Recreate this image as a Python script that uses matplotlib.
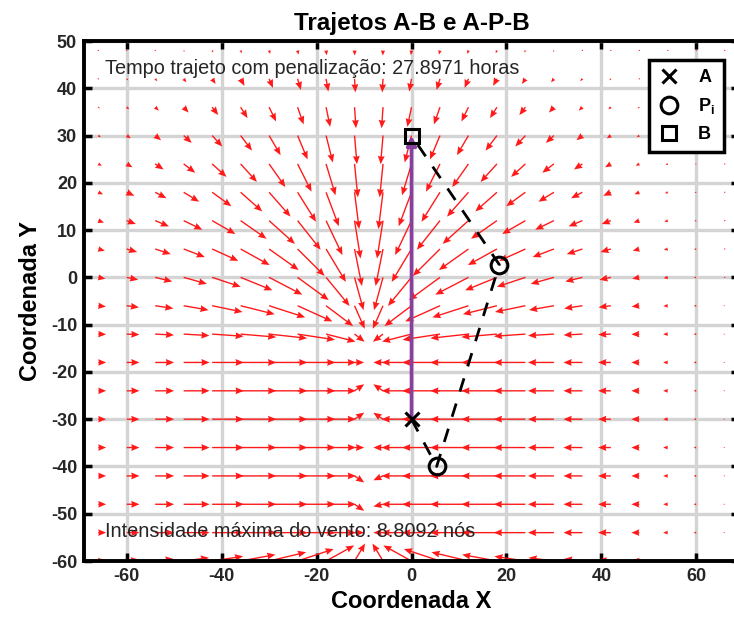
import numpy as np
import matplotlib
matplotlib.use("Agg")
import matplotlib.pyplot as plt
from matplotlib.lines import Line2D

plt.rcParams['font.family'] = ['Liberation Sans', 'DejaVu Sans']
plt.rcParams['axes.unicode_minus'] = False

# ---------------- data ----------------
grid_x = [-66, -60, -54, -48, -42, -36, -30, -24, -18, -12, -6, 0, 6, 12, 18, 24, 30, 36, 42, 48, 54, 60, 66]
grid_y = [48, 42, 36, 30, 24, 18, 12, 6, 0, -6, -12, -18, -24, -30, -36, -42, -48, -54, -60]

# wind components (knots), one list per row of grid_y (top row first), columns follow grid_x
wind_u = [
    [0.10, 0.14, 0.17, 0.21, 0.25, 0.28, 0.27, 0.23, 0.16, 0.06, -0.06, -0.16, -0.23, -0.27, -0.28, -0.25, -0.21, -0.17, -0.14, -0.10, -0.08, -0.05, -0.04],
    [0.23, 0.34, 0.48, 0.63, 0.78, 0.87, 0.88, 0.76, 0.52, 0.19, -0.19, -0.52, -0.76, -0.88, -0.87, -0.78, -0.63, -0.48, -0.34, -0.23, -0.17, -0.11, -0.07],
    [0.38, 0.57, 0.82, 1.12, 1.38, 1.57, 1.59, 1.37, 0.94, 0.33, -0.33, -0.94, -1.37, -1.59, -1.57, -1.38, -1.12, -0.82, -0.57, -0.38, -0.25, -0.17, -0.11],
    [0.60, 0.91, 1.34, 1.82, 2.30, 2.58, 2.61, 2.27, 1.54, 0.55, -0.55, -1.54, -2.27, -2.61, -2.58, -2.30, -1.82, -1.34, -0.91, -0.60, -0.37, -0.24, -0.15],
    [0.82, 1.30, 1.91, 2.63, 3.26, 3.71, 3.70, 3.17, 2.15, 0.76, -0.76, -2.15, -3.17, -3.70, -3.71, -3.26, -2.63, -1.91, -1.30, -0.82, -0.51, -0.30, -0.19],
    [1.09, 1.73, 2.56, 3.51, 4.38, 4.91, 4.87, 4.20, 2.91, 1.05, -1.05, -2.91, -4.20, -4.87, -4.91, -4.38, -3.51, -2.56, -1.73, -1.09, -0.66, -0.39, -0.24],
    [1.32, 2.09, 3.13, 4.25, 5.29, 5.89, 5.87, 5.25, 3.72, 1.37, -1.37, -3.72, -5.25, -5.87, -5.89, -5.29, -4.25, -3.13, -2.09, -1.32, -0.79, -0.45, -0.27],
    [1.49, 2.37, 3.54, 4.82, 5.95, 6.60, 6.72, 6.15, 4.51, 1.69, -1.69, -4.51, -6.15, -6.72, -6.60, -5.95, -4.82, -3.54, -2.37, -1.49, -0.88, -0.51, -0.29],
    [1.63, 2.61, 3.88, 5.28, 6.49, 7.23, 7.55, 7.08, 5.35, 2.04, -2.04, -5.35, -7.08, -7.55, -7.23, -6.49, -5.28, -3.88, -2.61, -1.63, -0.96, -0.55, -0.31],
    [1.74, 2.79, 4.13, 5.65, 6.92, 7.75, 8.21, 7.92, 6.15, 2.32, -2.32, -6.15, -7.92, -8.21, -7.75, -6.92, -5.65, -4.13, -2.79, -1.74, -1.01, -0.58, -0.32],
    [1.79, 2.89, 4.28, 5.87, 7.17, 8.08, 8.65, 8.51, 6.70, 2.29, -2.29, -6.70, -8.51, -8.65, -8.08, -7.17, -5.87, -4.28, -2.89, -1.79, -1.05, -0.60, -0.33],
    [1.80, 2.90, 4.30, 5.90, 7.20, 8.10, 8.70, 8.60, 6.80, 2.20, -2.20, -6.80, -8.60, -8.70, -8.10, -7.20, -5.90, -4.30, -2.90, -1.80, -1.05, -0.60, -0.33],
    [1.80, 2.90, 4.30, 5.90, 7.20, 8.10, 8.70, 8.60, 6.80, 2.20, -2.20, -6.80, -8.60, -8.70, -8.10, -7.20, -5.90, -4.30, -2.90, -1.80, -1.05, -0.60, -0.33],
    [1.80, 2.90, 4.30, 5.90, 7.20, 8.10, 8.70, 8.60, 6.80, 2.20, -2.20, -6.80, -8.60, -8.70, -8.10, -7.20, -5.90, -4.30, -2.90, -1.80, -1.05, -0.60, -0.33],
    [1.80, 2.90, 4.30, 5.90, 7.20, 8.10, 8.70, 8.60, 6.80, 2.20, -2.20, -6.80, -8.60, -8.70, -8.10, -7.20, -5.90, -4.30, -2.90, -1.80, -1.05, -0.60, -0.33],
    [1.80, 2.90, 4.30, 5.90, 7.20, 8.10, 8.70, 8.60, 6.80, 2.20, -2.20, -6.80, -8.60, -8.70, -8.10, -7.20, -5.90, -4.30, -2.90, -1.80, -1.05, -0.60, -0.33],
    [1.80, 2.90, 4.30, 5.90, 7.20, 8.10, 8.70, 8.60, 6.80, 2.20, -2.20, -6.80, -8.60, -8.70, -8.10, -7.20, -5.90, -4.30, -2.90, -1.80, -1.05, -0.60, -0.33],
    [1.80, 2.90, 4.30, 5.90, 7.20, 8.10, 8.70, 8.60, 6.80, 2.20, -2.20, -6.80, -8.60, -8.70, -8.10, -7.20, -5.90, -4.30, -2.90, -1.80, -1.05, -0.60, -0.33],
    [1.76, 2.84, 4.20, 5.76, 7.04, 7.91, 8.42, 8.21, 6.40, 2.39, -2.39, -6.40, -8.21, -8.42, -7.91, -7.04, -5.76, -4.20, -2.84, -1.76, -1.03, -0.59, -0.33],
]
wind_v = [
    [-0.11, -0.17, -0.24, -0.34, -0.48, -0.63, -0.80, -0.95, -1.08, -1.16, -1.16, -1.08, -0.95, -0.80, -0.63, -0.48, -0.34, -0.24, -0.17, -0.11, -0.07, -0.05, -0.03],
    [-0.21, -0.34, -0.53, -0.80, -1.18, -1.61, -2.08, -2.55, -2.90, -3.10, -3.10, -2.90, -2.55, -2.08, -1.61, -1.18, -0.80, -0.53, -0.34, -0.21, -0.13, -0.08, -0.05],
    [-0.29, -0.48, -0.79, -1.23, -1.80, -2.50, -3.26, -3.94, -4.49, -4.80, -4.80, -4.49, -3.94, -3.26, -2.50, -1.80, -1.23, -0.79, -0.48, -0.29, -0.17, -0.11, -0.06],
    [-0.38, -0.65, -1.07, -1.68, -2.51, -3.44, -4.48, -5.45, -6.15, -6.55, -6.55, -6.15, -5.45, -4.48, -3.44, -2.51, -1.68, -1.07, -0.65, -0.38, -0.21, -0.12, -0.07],
    [-0.43, -0.77, -1.27, -2.02, -2.97, -4.12, -5.29, -6.34, -7.16, -7.64, -7.64, -7.16, -6.34, -5.29, -4.12, -2.97, -2.02, -1.27, -0.77, -0.43, -0.24, -0.13, -0.08],
    [-0.46, -0.81, -1.36, -2.16, -3.19, -4.37, -5.56, -6.73, -7.75, -8.40, -8.40, -7.75, -6.73, -5.56, -4.37, -3.19, -2.16, -1.36, -0.81, -0.46, -0.25, -0.13, -0.08],
    [-0.44, -0.78, -1.32, -2.07, -3.05, -4.14, -5.31, -6.65, -7.86, -8.65, -8.65, -7.86, -6.65, -5.31, -4.14, -3.05, -2.07, -1.32, -0.78, -0.44, -0.24, -0.12, -0.07],
    [-0.39, -0.70, -1.18, -1.85, -2.71, -3.67, -4.80, -6.15, -7.52, -8.45, -8.45, -7.52, -6.15, -4.80, -3.67, -2.71, -1.85, -1.18, -0.70, -0.39, -0.21, -0.11, -0.06],
    [-0.31, -0.56, -0.95, -1.49, -2.16, -2.95, -3.95, -5.19, -6.53, -7.49, -7.49, -6.53, -5.19, -3.95, -2.95, -2.16, -1.49, -0.95, -0.56, -0.31, -0.17, -0.09, -0.04],
    [-0.21, -0.37, -0.62, -0.99, -1.43, -1.95, -2.66, -3.59, -4.65, -5.26, -5.26, -4.65, -3.59, -2.66, -1.95, -1.43, -0.99, -0.62, -0.37, -0.21, -0.11, -0.06, -0.03],
    [-0.07, -0.13, -0.22, -0.35, -0.50, -0.69, -0.95, -1.30, -1.71, -1.75, -1.75, -1.71, -1.30, -0.95, -0.69, -0.50, -0.35, -0.22, -0.13, -0.07, -0.04, -0.02, -0.01],
    [0, 0, 0, 0, 0, 0, 0, 0, 0, 0, 0, 0, 0, 0, 0, 0, 0, 0, 0, 0, 0, 0, 0],
    [0, 0, 0, 0, 0, 0, 0, 0, 0, 1.5, 1.5, 0, 0, 0, 0, 0, 0, 0, 0, 0, 0, 0, 0],
    [0, 0, 0, 0, 0, 0, 0, 0, 0, 1.5, 1.5, 0, 0, 0, 0, 0, 0, 0, 0, 0, 0, 0, 0],
    [0, 0, 0, 0, 0, 0, 0, 0, 0, 0, 0, 0, 0, 0, 0, 0, 0, 0, 0, 0, 0, 0, 0],
    [0, 0, 0, 0, 0, 0, 0, 0, 0, -1.5, -1.0, 0, 0, 0, 0, 0, 0, 0, 0, 0, 0, 0, 0],
    [0, 0, 0, 0, 0, 0, 0, 0, 0, -1.5, -0.5, 0, 0, 0, 0, 0, 0, 0, 0, 0, 0, 0, 0],
    [0, 0, 0, 0, 0, 0, 0, 0, 0, 0, 0, 0, 0, 0, 0, 0, 0, 0, 0, 0, 0, 0, 0],
    [0.15, 0.28, 0.47, 0.74, 1.07, 1.46, 2.01, 2.74, 3.55, 3.99, 3.99, 3.55, 2.74, 2.01, 1.46, 1.07, 0.74, 0.47, 0.28, 0.15, 0.08, 0.04, 0.02],
]

point_A = (0, -30)
point_B = (0, 30)
points_P_x = [5.3, 18.5]
points_P_y = [-40, 2.7]

tempo_trajeto = "27.8971"
vento_max = "8.8092"

x_ticks = [-60, -40, -20, 0, 20, 40, 60]
y_ticks = [-60, -50, -40, -30, -20, -10, 0, 10, 20, 30, 40, 50]

# ---------------- figure ----------------
fig = plt.figure(figsize=(7.34, 6.30), dpi=100)
ax = fig.add_axes([84 / 734, 1 - 561 / 630, 655 / 734, 520 / 630])
ax.set_xlim(-69, 69)
ax.set_ylim(-60, 50)

ax.set_xticks(x_ticks)
ax.set_yticks(y_ticks)
ax.grid(True, color='#d4d4d4', linewidth=2.4, zorder=0)
ax.set_axisbelow(True)

X, Y = np.meshgrid(grid_x, grid_y)
U = np.array(wind_u)
V = np.array(wind_v)
ax.quiver(X, Y, U, V, color='#ff1a1a', angles='xy', scale_units='xy', scale=1.08,
          width=0.0021, headwidth=5, headlength=6, headaxislength=5.5, zorder=2)

# direct path A -> B
ax.annotate('', xy=point_B, xytext=point_A,
            arrowprops=dict(arrowstyle='-|>', color='#8a3fa0', lw=2.6,
                            mutation_scale=14, shrinkA=0, shrinkB=0), zorder=3)

# path A -> P -> B
path_x = [point_A[0]] + points_P_x + [point_B[0]]
path_y = [point_A[1]] + points_P_y[::-1][::-1] + [point_B[1]]
ax.plot(path_x, path_y, color='black', lw=2.0, dashes=(5, 4.5), zorder=4)

ax.plot(point_A[0], point_A[1], 'x', color='black', ms=10, mew=2.2, zorder=5)
ax.plot(points_P_x, points_P_y, 'o', color='black', mfc='none', ms=12, mew=2.2, zorder=5)
ax.plot(point_B[0], point_B[1], 's', color='black', mfc='none', ms=10, mew=2.2, zorder=5)

ax.text(0.032, 0.948, f"Tempo trajeto com penalização: {tempo_trajeto} horas",
        transform=ax.transAxes, fontsize=14.3, color='#262626', va='center', ha='left', zorder=6)
ax.text(0.032, 0.056, f"Intensidade máxima do vento: {vento_max} nós",
        transform=ax.transAxes, fontsize=14.3, color='#262626', va='center', ha='left', zorder=6)

handles = [
    Line2D([], [], marker='x', color='black', ls='none', ms=10, mew=2.2),
    Line2D([], [], marker='o', color='black', mfc='none', ls='none', ms=12, mew=2.2),
    Line2D([], [], marker='s', color='black', mfc='none', ls='none', ms=10, mew=2.2),
]
leg = ax.legend(handles, ['A', r'P$_{\mathregular{i}}$', 'B'], loc='upper right',
                bbox_to_anchor=(0.977, 0.963), borderaxespad=0, fancybox=False,
                framealpha=1, edgecolor='black', prop={'weight': 'bold', 'size': 13},
                handlelength=1.2, handletextpad=1.0, labelspacing=0.55, borderpad=0.5)
leg.get_frame().set_linewidth(2.5)
leg.set_zorder(7)

ax.set_title('Trajetos A-B e A-P-B', fontsize=17.5, fontweight='bold', pad=8)
ax.set_xlabel('Coordenada X', fontsize=17, fontweight='bold', labelpad=4)
ax.set_ylabel('Coordenada Y', fontsize=17, fontweight='bold', labelpad=6)

for s in ax.spines.values():
    s.set_linewidth(2.8)
    s.set_zorder(8)
ax.tick_params(direction='in', length=6, width=2.5, top=True, right=True,
               labelsize=13, pad=5)
for lbl in ax.get_xticklabels() + ax.get_yticklabels():
    lbl.set_fontweight('bold')
    lbl.set_color('#262626')

fig.savefig('out.png', dpi=100)
